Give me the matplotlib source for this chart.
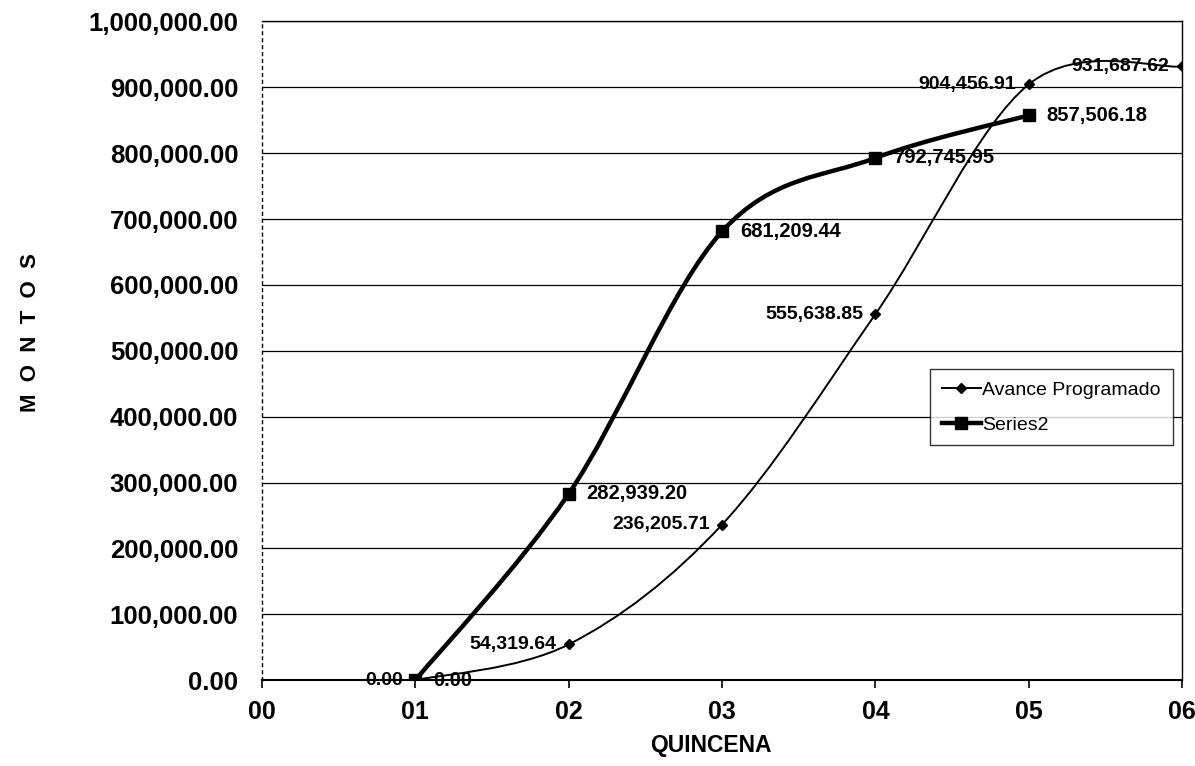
import matplotlib
matplotlib.use("Agg")
import matplotlib.pyplot as plt
from matplotlib.path import Path
from matplotlib.patches import PathPatch
from matplotlib.lines import Line2D

plt.rcParams['font.family'] = ['Liberation Sans', 'DejaVu Sans']

# ---- data ----
x_ticks = [0, 1, 2, 3, 4, 5, 6]
x_tick_labels = ["00", "01", "02", "03", "04", "05", "06"]
avance_x = [1, 2, 3, 4, 5, 6]
avance_y = [0.00, 54319.64, 236205.71, 555638.85, 904456.91, 931687.62]
series2_x = [1, 2, 3, 4, 5]
series2_y = [0.00, 282939.20, 681209.44, 792745.95, 857506.18]
series_names = ["Avance Programado", "Series2"]
y_ticks = [0, 100000, 200000, 300000, 400000, 500000, 600000, 700000, 800000, 900000, 1000000]


def smooth_path(xs, ys):
    """Catmull-Rom style Bezier path through the data points (Excel-like smoothing)."""
    n = len(xs)
    verts = [(xs[0], ys[0])]
    codes = [Path.MOVETO]
    for i in range(n - 1):
        p0 = (xs[max(i - 1, 0)], ys[max(i - 1, 0)])
        p1 = (xs[i], ys[i])
        p2 = (xs[i + 1], ys[i + 1])
        p3 = (xs[min(i + 2, n - 1)], ys[min(i + 2, n - 1)])
        c1 = (p1[0] + (p2[0] - p0[0]) / 6, p1[1] + (p2[1] - p0[1]) / 6)
        c2 = (p2[0] - (p3[0] - p1[0]) / 6, p2[1] - (p3[1] - p1[1]) / 6)
        verts += [c1, c2, p2]
        codes += [Path.CURVE4] * 3
    return Path(verts, codes)


fig = plt.figure(figsize=(11.95, 7.66), dpi=100)
ax = fig.add_axes([0.2192, 0.112, 0.770, 0.860])

ax.set_xlim(0, 6)
ax.set_ylim(0, 1000000)

# gridlines
for yv in y_ticks:
    ax.axhline(yv, color='black', lw=0.9, zorder=1)

# curves
ax.add_patch(PathPatch(smooth_path(avance_x, avance_y), fill=False,
                       edgecolor='black', lw=1.4, zorder=3))
ax.add_patch(PathPatch(smooth_path(series2_x, series2_y), fill=False,
                       edgecolor='black', lw=3.2, zorder=3))
ax.plot(avance_x, avance_y, linestyle='none', marker='D', ms=5.5,
        color='black', zorder=4)
ax.plot(series2_x, series2_y, linestyle='none', marker='s', ms=9,
        color='black', zorder=4)

# data labels
for xv, yv in zip(avance_x, avance_y):
    ax.annotate(f"{yv:,.2f}", (xv, yv), xytext=(-9, 0), textcoords='offset points',
                ha='right', va='center', fontsize=14, fontweight='bold', zorder=5)
for xv, yv in zip(series2_x, series2_y):
    ax.annotate(f"{yv:,.2f}", (xv, yv), xytext=(13, 0), textcoords='offset points',
                ha='left', va='center', fontsize=14.5, fontweight='bold', zorder=5)

# ticks
ax.set_xticks(x_ticks)
ax.set_xticklabels(x_tick_labels, fontsize=18, fontweight='bold')
ax.set_yticks(y_ticks)
ax.set_yticklabels([f"{v:,.2f}" for v in y_ticks], fontsize=18.5, fontweight='bold')
ax.tick_params(axis='x', direction='out', length=6, width=1.2, pad=8)
ax.tick_params(axis='y', length=0, pad=17)

for side in ['top', 'right', 'bottom']:
    ax.spines[side].set_color('black')
    ax.spines[side].set_linewidth(1.0)
ax.spines['bottom'].set_linewidth(1.5)
ax.spines['left'].set_linestyle((0, (2, 3)))
ax.spines['left'].set_linewidth(1.0)

ax.set_xlabel("QUINCENA", fontsize=16.5, fontweight='bold')
ax.set_ylabel("M  O  N  T  O  S", fontsize=16, fontweight='bold')
ax.xaxis.set_label_coords(0.488, -0.082)
ax.yaxis.set_label_coords(-0.240, 0.528)

handles = [
    Line2D([], [], color='black', lw=1.4, marker='D', ms=5.5),
    Line2D([], [], color='black', lw=3.2, marker='s', ms=9),
]
leg = ax.legend(handles, series_names, loc='upper left', bbox_to_anchor=(0.726, 0.472),
                fontsize=14, frameon=True, fancybox=False, edgecolor='black',
                handlelength=2.0, handletextpad=0.1, borderpad=0.6, labelspacing=0.9,
                borderaxespad=0)
leg.get_frame().set_linewidth(1.0)

fig.savefig("out.png", dpi=100, facecolor='white')
